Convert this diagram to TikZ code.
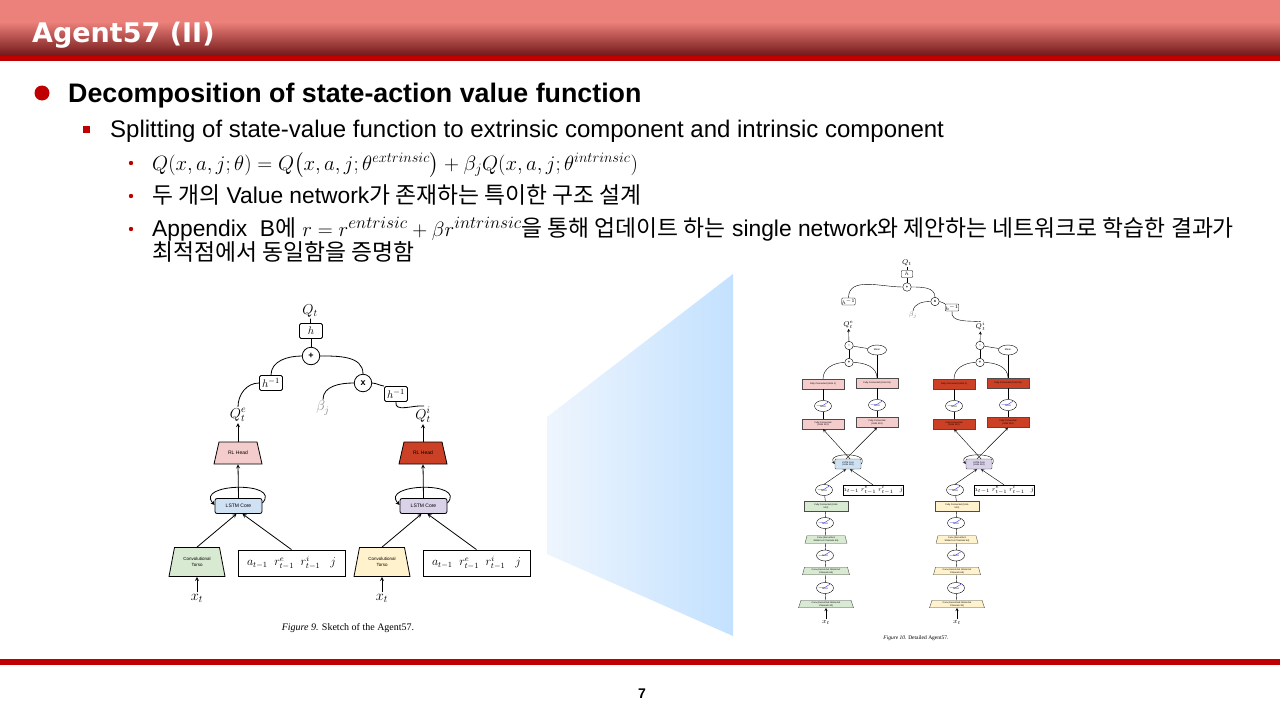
\documentclass[tikz,border=0pt]{standalone}
\usepackage[no-math]{fontspec}
\usepackage{amsmath}
\setmainfont{Liberation Sans}
\newfontfamily\krfont{Noto Sans CJK KR}
\newfontfamily\headfont{DejaVu Sans}
\newfontfamily\capfont{Liberation Serif}
\usetikzlibrary{shapes.geometric}

\definecolor{slidered}{RGB}{192,0,0}
\definecolor{bartop}{RGB}{236,128,122}
\definecolor{barbot}{RGB}{112,24,24}
\definecolor{headpink}{RGB}{244,204,204}
\definecolor{headred}{RGB}{204,65,37}
\definecolor{lstmblue}{RGB}{207,226,243}
\definecolor{lstmlilac}{RGB}{217,210,233}
\definecolor{torsogreen}{RGB}{217,234,211}
\definecolor{torsoyellow}{RGB}{255,242,204}
\definecolor{fadeblue}{RGB}{195,225,255}
\definecolor{fadewhite}{RGB}{238,245,253}

\newcommand{\kr}[1]{{\krfont #1}}
% trapezoid: centre x, centre y, top width, bottom width, height, fill
\newcommand{\trap}[6]{\filldraw[fill=#6] (#1-#3/2,#2+#5/2) -- (#1+#3/2,#2+#5/2) -- (#1+#4/2,#2-#5/2) -- (#1-#4/2,#2-#5/2) -- cycle;}

\begin{document}
\begin{tikzpicture}[x=1pt,y=1pt,>=stealth,
  txt/.style={anchor=base west,inner sep=0},
  opbox/.style={draw,rounded corners=1.5,minimum width=23,minimum height=15,inner sep=0,font=\fontsize{11}{11}\selectfont},
  opcirc/.style={draw,circle,minimum size=17.5,inner sep=0,font=\bfseries\fontsize{9}{9}\selectfont},
  rlhead/.style={minimum width=48,minimum height=22,inner sep=0,font=\fontsize{5}{6}\selectfont},
  lstm/.style={draw,rounded corners=2,minimum width=47,minimum height=15,inner sep=0,font=\fontsize{5}{6}\selectfont},
  torso/.style={minimum width=56,minimum height=29,inner sep=0,align=center,font=\fontsize{4.5}{5.5}\selectfont},
  inbox/.style={draw,minimum width=107,minimum height=26,inner sep=0,font=\fontsize{12}{12}\selectfont},
  sym/.style={font=\fontsize{14}{14}\selectfont,inner sep=1},
  tinybox/.style={draw,rounded corners=0.8,minimum width=11.5,minimum height=7,inner sep=0,font=\fontsize{5}{5}\selectfont},
  tinycirc/.style={draw,circle,minimum size=8.5,inner sep=0,font=\bfseries\fontsize{4}{4}\selectfont},
  meanell/.style={draw,ellipse,minimum width=19,minimum height=10,inner sep=0,font=\fontsize{2.5}{3}\selectfont},
  fcbox/.style={draw=black!70,minimum width=42,minimum height=10,inner sep=0,align=center,font=\fontsize{2.3}{2.8}\selectfont},
  corebox/.style={draw=black!70,rounded corners=1,minimum width=26,minimum height=10,inner sep=0,align=center,font=\fontsize{2.3}{2.8}\selectfont},
  relu/.style={draw,ellipse,minimum width=17,minimum height=11,inner sep=0,font=\fontsize{2.3}{2.8}\selectfont,
    path picture={\draw[blue!75,line width=0.4] ([shift={(-6.5,0.3)}]path picture bounding box.center) -- ++(6,0) -- ++(5.5,3.5);}},
  convbox/.style={minimum width=40,minimum height=7.5,inner sep=0,align=center,font=\fontsize{2.3}{2.8}\selectfont},
  tinyin/.style={draw,minimum width=58,minimum height=10,inner sep=0,font=\fontsize{6}{6}\selectfont},
  tinysym/.style={font=\fontsize{7}{7}\selectfont,inner sep=0.5}]

  \useasboundingbox (0,0) rectangle (1280,-720);
  \fill[white] (0,0) rectangle (1280,-720);

  % title bar
  \fill[bartop] (0,0) rectangle (1280,-22);
  \shade[top color=bartop,bottom color=barbot] (0,-22) rectangle (1280,-56);
  \fill[slidered] (0,-55.5) rectangle (1280,-60.5);
  \node[txt,text=white,font=\headfont\bfseries\fontsize{27}{32}\selectfont] (title) at (32,-42) {Agent57 (II)};

  % bullets
  \fill[slidered] (42,-93) circle (7.5);
  \node[txt,font=\bfseries\fontsize{26.8}{30}\selectfont] (bul1) at (68,-102) {Decomposition of state-action value function};
  \fill[slidered] (82.5,-125.5) rectangle (89.5,-132.5);
  \node[txt,font=\fontsize{24}{28}\selectfont] (bul2) at (110,-137) {Splitting of state-value function to extrinsic component and intrinsic component};
  \foreach \y in {163,196,229}
    \fill[slidered] (131,-\y) circle (2.2);
  \node[txt,font=\fontsize{22.6}{26}\selectfont] (bul3) at (152,-170) {$Q(x,a,j;\theta)=Q\big(x,a,j;\theta^{extrinsic}\big)+\beta_jQ(x,a,j;\theta^{intrinsic})$};
  \node[txt,font=\fontsize{22.8}{26}\selectfont] (bul4) at (152,-203) {\kr{두 개의} Value network\kr{가 존재하는 특이한 구조 설계}};
  \node[txt,font=\fontsize{22.8}{26}\selectfont] (bul5) at (152,-236) {Appendix\ \ B\kr{에} $r=r^{entrisic}+\beta r^{intrinsic}$\kr{을 통해 업데이트 하는} single network\kr{와 제안하는 네트워크로 학습한 결과가}};
  \node[txt,font=\fontsize{22.8}{26}\selectfont] (bul6) at (152,-260) {\kr{최적점에서 동일함을 증명함}};

  % zoom wedge
  \shade[left color=fadewhite,right color=fadeblue] (547,-417) -- (733,-274) -- (733,-636) -- (547,-554) -- cycle;

  % figure 9 : sketch
  \begin{scope}[line width=0.8]
    \node[sym] (Qt) at (310,-311) {$Q_t$};
    \node[opbox] (hbox) at (311,-331) {$h$};
    \node[opcirc] (plus) at (311,-356) {+};
    \node[opbox] (hinvE) at (271,-383) {$h^{-1}$};
    \node[opcirc] (times) at (363,-383) {x};
    \node[opbox] (hinvI) at (396,-394) {$h^{-1}$};
    \node[sym,text=black!50] (beta) at (323,-408) {$\beta_j$};
    \node[sym] (QE) at (238,-415) {$Q^e_t$};
    \node[sym] (QI) at (423,-415) {$Q^i_t$};
    \draw (Qt) -- (hbox);
    \draw (hbox) -- (plus);
    \draw (plus.west) to[out=180,in=90] (hinvE.north);
    \draw (hinvE.west) to[out=180,in=90] (QE.north);
    \draw (plus.east) to[out=0,in=90] (times.north);
    \draw (times.west) to[out=180,in=90] (beta.north);
    \draw (times.east) to[out=-5,in=170] (hinvI.north west);
    \draw (hinvI.south) to[out=-100,in=175] ([xshift=1]QI.north);
    \foreach \dx/\s/\hc/\lc/\tc in {0/E/headpink/lstmblue/torsogreen,185/I/headred/lstmlilac/torsoyellow} {
      \trap{238+\dx}{-453}{38}{48}{22}{\hc}
      \node[rlhead] (rl\s) at (238+\dx,-453) {RL Head};
      \node[lstm,fill=\lc] (lstm\s) at (238.5+\dx,-506) {LSTM Core};
      \trap{197+\dx}{-562}{45}{56}{29}{\tc}
      \node[torso] (torso\s) at (197+\dx,-562) {Convolutional\\Torso};
      \node[inbox] (in\s) at (291.5+\dx,-563) {$a_{t-1}\ \ r^e_{t-1}\ \ r^i_{t-1}\ \ \ j$};
      \node[sym] (x\s) at (197+\dx,-598) {$x_t$};
      \draw[->] (rl\s.north) -- (Q\s.south);
      \draw[->] (lstm\s.north) -- (rl\s.south);
      \draw[->] ([yshift=3]lstm\s.east) .. controls +(20,22) and +(-20,22) .. ([yshift=1]lstm\s.west);
      \draw[->] (torso\s.north) -- ([xshift=-2]lstm\s.south);
      \draw[->] (in\s.north) -- ([xshift=4]lstm\s.south);
      \draw[->] (x\s) -- (torso\s);
    }
  \end{scope}
  \node[font=\capfont\fontsize{10}{12}\selectfont] (cap9) at (348,-628) {\textit{Figure 9.} Sketch of the Agent57.};

  % figure 10 : detailed
  \begin{scope}[line width=0.4]
    \node[tinysym] (qt2) at (907,-263) {$Q_t$};
    \node[tinybox] (h2) at (907,-274) {$h$};
    \node[tinycirc] (plus2) at (907,-287) {+};
    \node[tinybox] (hinvE2) at (848.5,-301.5) {$h^{-1}$};
    \node[tinycirc] (times2) at (935,-301.5) {x};
    \node[tinybox] (hinvI2) at (952,-307.5) {$h^{-1}$};
    \node[tinysym,text=black!50] (beta2) at (913,-315) {$\beta_j$};
    \node[tinysym] (qE) at (848.5,-324.5) {$Q^e_t$};
    \node[tinysym] (qI) at (980.5,-326.5) {$Q^i_t$};
    \draw (qt2) -- (h2) -- (plus2);
    \draw (plus2.west) to[out=180,in=90] (hinvE2.north);
    \draw (plus2.east) to[out=0,in=90] (times2.north);
    \draw (times2.west) to[out=180,in=80] (beta2.north);
    \draw (times2.east) to[out=0,in=170] (hinvI2.north west);
    \draw (hinvI2.south) to[out=-100,in=175] (qI.north);
    \foreach \dx/\s/\fc/\cc/\lo in {0/E/headpink/lstmblue/torsogreen,131/I/headred/lstmlilac/torsoyellow} {
      \node[tinycirc] (minus\s) at (849+\dx,-345.5) {-};
      \node[meanell] (mean\s) at (877+\dx,-350) {Mean};
      \node[tinycirc] (sum\s) at (849+\dx,-362.5) {+};
      \node[fcbox,fill=\fc] (fcA\s) at (823+\dx,-384) {Fully Connected (Units 1)};
      \node[fcbox,fill=\fc] (fcB\s) at (877+\dx,-383) {Fully Connected (Units 18)};
      \node[relu] (reluA\s) at (823+\dx,-406) {\raisebox{-2.5pt}{ReLU}};
      \node[relu] (reluB\s) at (877+\dx,-405) {\raisebox{-2.5pt}{ReLU}};
      \node[fcbox,fill=\fc] (fcC\s) at (823+\dx,-424) {Fully Connected\\(Units 512)};
      \node[fcbox,fill=\fc] (fcD\s) at (877+\dx,-422.5) {Fully Connected\\(Units 512)};
      \node[corebox,fill=\cc] (core\s) at (848+\dx,-464) {LSTM Core\\(Units 512)};
      \node[relu] (reluC\s) at (824+\dx,-490) {\raisebox{-2.5pt}{ReLU}};
      \node[tinyin] (inp\s) at (873+\dx,-490) {$a_{t-1}\ r^e_{t-1}\ r^i_{t-1}\quad j$};
      \node[fcbox,fill=\lo,minimum width=44] (fcE\s) at (826+\dx,-506.5) {Fully Connected (Units\\512)};
      \node[relu] (reluD\s) at (825+\dx,-523) {\raisebox{-2.5pt}{ReLU}};
      {\color{black!70}\trap{826+\dx}{-539.5}{38}{42}{7.5}{\lo}}
      \node[convbox] (convA\s) at (826+\dx,-539.5) {Conv (Kernel:3x3\\Stride:1x1 Channels:64)};
      \node[relu] (reluE\s) at (825+\dx,-555.5) {\raisebox{-2.5pt}{ReLU}};
      {\color{black!70}\trap{826+\dx}{-571}{43}{47}{7.5}{\lo}}
      \node[convbox] (convB\s) at (826+\dx,-571) {Conv (Kernel:4x4 Stride:2x2\\Channels:64)};
      \node[relu] (reluF\s) at (825+\dx,-588) {\raisebox{-2.5pt}{ReLU}};
      {\color{black!70}\trap{826+\dx}{-604}{50}{55}{7.5}{\lo}}
      \node[convbox] (convC\s) at (826+\dx,-604) {Conv (Kernel:8x8 Stride:4x4\\Channels:32)};
      \node[tinysym] (xin\s) at (826+\dx,-622) {$x_t$};
      \draw[->] (minus\s) -- (q\s);
      \draw (minus\s) -- (mean\s);
      \draw (sum\s) -- (minus\s);
      \draw (mean\s) -- (fcB\s);
      \draw (sum\s.west) to[out=180,in=90] (fcA\s.north);
      \draw (sum\s.east) to[out=0,in=90] (fcB\s.north);
      \draw (fcA\s) -- (reluA\s) -- (fcC\s);
      \draw (fcB\s) -- (reluB\s) -- (fcD\s);
      \draw[->] ([xshift=2]core\s.north) -- (fcC\s.south);
      \draw[->] ([xshift=-2]core\s.north) -- (fcD\s.south);
      \draw[->] (core\s.east) .. controls +(9,12) and +(-9,12) .. (core\s.west);
      \draw[->] (reluC\s.north) -- ([xshift=-2]core\s.south);
      \draw[->] (inp\s.north) -- ([xshift=2]core\s.south);
      \draw (reluC\s) -- (fcE\s) -- (reluD\s) -- (convA\s) -- (reluE\s) -- (convB\s) -- (reluF\s) -- (convC\s);
      \draw[->] (xin\s) -- (convC\s);
    }
  \end{scope}
  \node[font=\capfont\fontsize{5.5}{6.5}\selectfont] (cap10) at (916,-638) {\textit{Figure 10.} Detailed Agent57.};

  % footer
  \fill[slidered] (0,-659) rectangle (1280,-665);
  \node[font=\bfseries\fontsize{14}{16}\selectfont] (pg) at (642,-694) {7};
\end{tikzpicture}
\end{document}
